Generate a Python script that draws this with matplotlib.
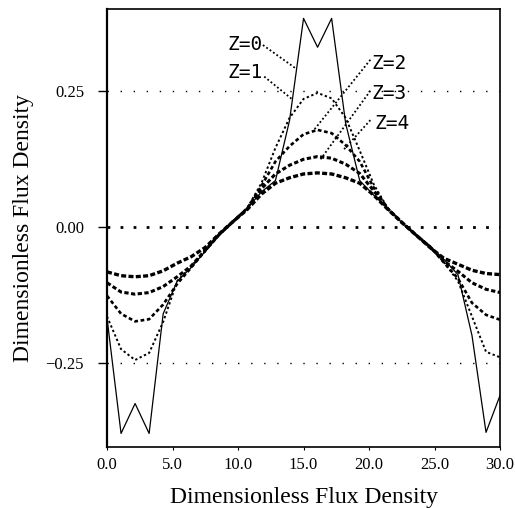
import numpy as np
import matplotlib.pyplot as plt

# sample positions along the x axis (29 points, 0..30)
x_vals = [0.0, 1.071, 2.143, 3.214, 4.286, 5.357, 6.429, 7.5, 8.571, 9.643,
          10.714, 11.786, 12.857, 13.929, 15.0, 16.071, 17.143, 18.214, 19.286,
          20.357, 21.429, 22.5, 23.571, 24.643, 25.714, 26.786, 27.857, 28.929, 30.0]

z0 = [-0.168, -0.38, -0.325, -0.38, -0.16, -0.1, -0.075, -0.045, -0.015, 0.01,
      0.034, 0.064, 0.085, 0.195, 0.383, 0.33, 0.383, 0.19, 0.085,
      0.058, 0.033, 0.008, -0.015, -0.036, -0.06, -0.088, -0.2, -0.378, -0.31]
z1 = [-0.165, -0.225, -0.245, -0.232, -0.175, -0.1, -0.072, -0.045, -0.015, 0.01,
      0.035, 0.08, 0.145, 0.2, 0.235, 0.246, 0.236, 0.2, 0.14,
      0.078, 0.034, 0.008, -0.015, -0.036, -0.065, -0.1, -0.165, -0.23, -0.24]
z2 = [-0.127, -0.16, -0.174, -0.17, -0.143, -0.105, -0.075, -0.044, -0.014, 0.01,
      0.034, 0.075, 0.12, 0.148, 0.17, 0.178, 0.172, 0.15, 0.12,
      0.072, 0.033, 0.008, -0.015, -0.036, -0.066, -0.095, -0.14, -0.162, -0.171]
z3 = [-0.103, -0.12, -0.124, -0.121, -0.11, -0.092, -0.072, -0.043, -0.014, 0.01,
      0.033, 0.07, 0.097, 0.113, 0.124, 0.129, 0.126, 0.115, 0.098,
      0.066, 0.033, 0.008, -0.015, -0.037, -0.063, -0.082, -0.103, -0.115, -0.121]
z4 = [-0.083, -0.09, -0.092, -0.09, -0.081, -0.067, -0.055, -0.038, -0.013, 0.01,
      0.032, 0.06, 0.08, 0.09, 0.097, 0.099, 0.097, 0.09, 0.08,
      0.058, 0.032, 0.008, -0.015, -0.038, -0.058, -0.069, -0.08, -0.086, -0.088]

x_ticks = [0, 5, 10, 15, 20, 25, 30]
x_ticklabels = ['0.0', '5.0', '10.0', '15.0', '20.0', '25.0', '30.0']
y_ticks = [-0.25, 0.0, 0.25]
y_ticklabels = ['\u22120.25', '0.00', '0.25']

# label text, text position, leader start / end
labels = ['Z=0', 'Z=1', 'Z=2', 'Z=3', 'Z=4']
label_pos = [(9.2, 0.335), (9.2, 0.283), (20.2, 0.30), (20.2, 0.245), (20.4, 0.19)]
leader_start = [(11.9, 0.334), (12.0, 0.276), (20.1, 0.307), (20.1, 0.25), (20.1, 0.196)]
leader_end = [(14.35, 0.292), (14.2, 0.233), (15.8, 0.178), (16.3, 0.124), (18.0, 0.14)]

fig = plt.figure(figsize=(5.15, 5.08), dpi=100)
ax = fig.add_axes([0.2078, 0.12, 0.7632, 0.862])

serif = ['Liberation Serif', 'DejaVu Serif']

# reference dotted lines
ax.axhline(0.25, color='black', lw=1.0, ls=(0, (1, 8.4)), zorder=1)
ax.axhline(-0.25, color='black', lw=1.0, ls=(0, (1, 8.4)), zorder=1)
ax.axhline(0.0, color='black', lw=2.0, ls=(0, (1, 3.7)), zorder=1)

ax.plot(x_vals, z0, color='black', lw=0.9, zorder=3)
ax.plot(x_vals, z1, color='black', lw=1.4, ls=(0, (1.2, 1.3)), zorder=3)
ax.plot(x_vals, z2, color='black', lw=1.9, ls=(0, (1.4, 1)), zorder=3)
ax.plot(x_vals, z3, color='black', lw=2.2, ls=(0, (1.4, 0.8)), zorder=3)
ax.plot(x_vals, z4, color='black', lw=2.4, ls=(0, (1.5, 0.7)), zorder=3)

for lab, p, s, e in zip(labels, label_pos, leader_start, leader_end):
    ax.text(p[0], p[1], lab, fontsize=14, family='DejaVu Sans Mono',
            ha='left', va='center')
    ax.plot([s[0], e[0]], [s[1], e[1]], color='black', lw=1.3,
            ls=(0, (1, 1.3)), zorder=2)

ax.set_xlim(0, 30)
ax.set_ylim(-0.405, 0.40)
ax.set_xticks(x_ticks)
ax.set_xticklabels(x_ticklabels, family=serif, fontsize=12)
ax.set_yticks(y_ticks)
ax.set_yticklabels(y_ticklabels, family=serif, fontsize=12)
ax.tick_params(axis='y', direction='out', length=6.5, width=1, pad=10)
ax.tick_params(axis='x', direction='out', length=2.5, width=0.8, pad=5)
for sp in ax.spines.values():
    sp.set_linewidth(1.2)
ax.spines['left'].set_linewidth(1.6)

ax.set_xlabel('Dimensionless Flux Density', family=serif, fontsize=17, labelpad=10)
ax.set_ylabel('Dimensionless Flux Density', family=serif, fontsize=17, labelpad=8)

fig.savefig('out.png', dpi=100)
